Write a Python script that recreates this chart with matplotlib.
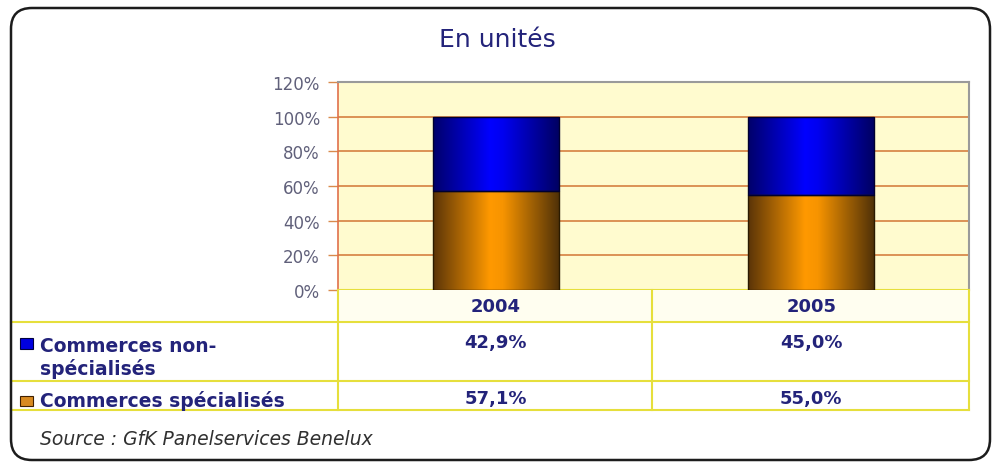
import matplotlib
matplotlib.use("Agg")
import matplotlib.pyplot as plt
import numpy as np
from matplotlib.colors import LinearSegmentedColormap
from matplotlib.patches import FancyBboxPatch, Rectangle
from matplotlib.lines import Line2D

# data
years = ["2004", "2005"]
non_specialises = [42.9, 45.0]
specialises = [57.1, 55.0]
series_labels = ["Commerces non-\nspécialisés", "Commerces spécialisés"]
y_ticks = [0, 20, 40, 60, 80, 100, 120]
title = "En unités"
source = "Source : GfK Panelservices Benelux"

W, H = 995, 464
navy = "#23237a"
table_line = "#e6df3c"


def fx(x):
    return x / W


def fy(y):
    return 1 - y / H


def fmt(v):
    return f"{v:.1f}".replace(".", ",") + "%"


fig = plt.figure(figsize=(W / 100, H / 100), dpi=100)
fig.patch.set_facecolor("white")

# outer rounded frame
frame = FancyBboxPatch((fx(11), fy(461)), fx(990) - fx(11), fy(9) - fy(461),
                       boxstyle="round,pad=0,rounding_size=0.021",
                       transform=fig.transFigure, facecolor="none",
                       edgecolor="#1c1c1c", linewidth=1.8, mutation_aspect=W / H,
                       zorder=5)
fig.patches.append(frame)

fig.text(fx(497), fy(40), title, ha="center", va="center", fontsize=18, color=navy)

# plot area
ax = fig.add_axes([fx(338), fy(291), fx(969) - fx(338), fy(83) - fy(291)])
ax.set_facecolor("#fffbcf")
x = np.arange(len(years))
bw = 0.4
b1 = ax.bar(x, specialises, bw, color="none", edgecolor="#2a1a00", linewidth=1.0, zorder=4)
b2 = ax.bar(x, non_specialises, bw, bottom=specialises, color="none",
            edgecolor="#000030", linewidth=1.0, zorder=4)


def shade(bars, stops):
    cmap = LinearSegmentedColormap.from_list("g", stops)
    grad = np.linspace(0, 1, 256).reshape(1, -1)
    for b in bars:
        x0, y0, w, h = b.get_x(), b.get_y(), b.get_width(), b.get_height()
        im = ax.imshow(grad, cmap=cmap, aspect="auto", extent=(x0, x0 + w, y0, y0 + h),
                       zorder=3, interpolation="bilinear")
        im.set_clip_path(Rectangle((x0, y0), w, h, transform=ax.transData))


shade(b1, [(0, "#5a3408"), (0.45, "#ff9900"), (0.55, "#f79400"), (1, "#4e3008")])
shade(b2, [(0, "#00006a"), (0.45, "#0000ff"), (0.55, "#0000f0"), (1, "#000060")])

ax.set_xlim(-0.5, len(years) - 0.5)
ax.set_ylim(0, 120)
ax.set_yticks(y_ticks)
ax.set_yticklabels([f"{t}%" for t in y_ticks], fontsize=12, color="#60607a")
ax.set_xticks([])
ax.yaxis.grid(True, color="#d98a4c", linewidth=1.3)
ax.set_axisbelow(True)
ax.tick_params(axis="y", length=7, width=1, color="#d98a4c", pad=6)
ax.spines["left"].set_color("#e0704a")
ax.spines["left"].set_linewidth(1.2)
for s in ["top", "right"]:
    ax.spines[s].set_color("#9a9a9a")
    ax.spines[s].set_linewidth(1.5)
ax.spines["bottom"].set_color(table_line)
ax.spines["bottom"].set_linewidth(1.5)

# data table below the plot
fig.patches.append(Rectangle((fx(338), fy(323)), fx(969) - fx(338), fy(291) - fy(323),
                             transform=fig.transFigure, facecolor="#fffef0",
                             edgecolor="none", zorder=1))


def hline(y, x0, x1):
    fig.lines.append(Line2D([fx(x0), fx(x1)], [fy(y), fy(y)], transform=fig.transFigure,
                            color=table_line, linewidth=1.5, zorder=2))


def vline(x0, y0, y1):
    fig.lines.append(Line2D([fx(x0), fx(x0)], [fy(y0), fy(y1)], transform=fig.transFigure,
                            color=table_line, linewidth=1.5, zorder=2))


hline(323, 11, 969)
hline(382, 11, 969)
hline(411, 11, 969)
for xv in [338, 652, 969]:
    vline(xv, 291, 411)

cell_w = (969 - 338) / len(years)
for i, yr in enumerate(years):
    cx = 338 + cell_w * (i + 0.5)
    fig.text(fx(cx), fy(307), yr, ha="center", va="center", fontsize=13,
             fontweight="bold", color=navy)
    fig.text(fx(cx), fy(343), fmt(non_specialises[i]), ha="center", va="center",
             fontsize=13, fontweight="bold", color=navy)
    fig.text(fx(cx), fy(399), fmt(specialises[i]), ha="center", va="center",
             fontsize=13, fontweight="bold", color=navy)

# legend keys in the table
fig.patches.append(Rectangle((fx(20), fy(350)), fx(33) - fx(20), fy(339) - fy(350),
                             transform=fig.transFigure, facecolor="#0000e0",
                             edgecolor="#000040", linewidth=0.8, zorder=3))
fig.patches.append(Rectangle((fx(20), fy(407)), fx(33) - fx(20), fy(397) - fy(407),
                             transform=fig.transFigure, facecolor="#d88a20",
                             edgecolor="#402000", linewidth=0.8, zorder=3))
fig.text(fx(40), fy(352), series_labels[0].split("\n")[0], ha="left", va="baseline",
         fontsize=13.5, fontweight="bold", color=navy)
fig.text(fx(40), fy(375), series_labels[0].split("\n")[1], ha="left", va="baseline",
         fontsize=13.5, fontweight="bold", color=navy)
fig.text(fx(40), fy(407), series_labels[1], ha="left", va="baseline",
         fontsize=13.5, fontweight="bold", color=navy)

fig.text(fx(40), fy(440), source, ha="left", va="center", fontsize=13.5,
         style="italic", color="#303030")

fig.savefig("out.png", dpi=100, facecolor="white")
